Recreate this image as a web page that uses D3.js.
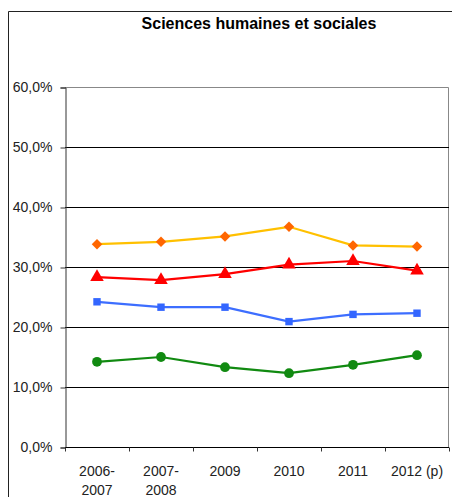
<!DOCTYPE html>
<html><head><meta charset="utf-8">
<script src="https://cdn.jsdelivr.net/npm/d3@7"></script>
<style>body{margin:0;background:#fff}svg{display:block}text{font-family:"Liberation Sans",Arial,sans-serif}</style>
</head><body>
<script>
const title = "Sciences humaines et sociales";
const categories = [["2006-","2007"],["2007-","2008"],["2009"],["2010"],["2011"],["2012 (p)"]];
const yTicks = [0,10,20,30,40,50,60];
const seriesOrange = [33.8,34.2,35.1,36.7,33.6,33.4];
const seriesRed = [28.3,27.8,28.8,30.4,31.0,29.4];
const seriesBlue = [24.2,23.3,23.3,20.9,22.1,22.3];
const seriesGreen = [14.2,15.0,13.3,12.3,13.7,15.3];

const W=452,H=497;
const svg=d3.select("body").append("svg").attr("width",W).attr("height",H);
const L=65,R=449,T=87,B=447;
const x=d3.scaleBand().domain(d3.range(categories.length)).range([L,R]);
const y=d3.scaleLinear().domain([0,60]).range([B,T]);

// outer border
svg.append("path").attr("d",`M8.5,${H} V11.5 H${W}`).attr("fill","none").attr("stroke","#222").attr("stroke-width",1);

svg.append("text").attr("x",259).attr("y",29).attr("text-anchor","middle")
  .attr("font-size",16).attr("font-weight","bold").attr("fill","#000").text(title);

// plot border top/right
svg.append("path").attr("d",`M${L},${T+0.5} H${R-0.5} V${B}`).attr("fill","none").attr("stroke","#888");

// gridlines
svg.append("g").selectAll("line").data(yTicks.filter(d=>d>0&&d<60)).join("line")
  .attr("x1",L).attr("x2",R).attr("y1",d=>Math.round(y(d))+0.5).attr("y2",d=>Math.round(y(d))+0.5)
  .attr("stroke","#000");

// y axis
const yAxis=d3.axisLeft(y).tickValues(yTicks).tickSize(5).tickPadding(8)
  .tickFormat(d=>d3.format(".1f")(d).replace(".",",")+"%");
const gy=svg.append("g").attr("transform",`translate(${L+0.5},0.5)`).call(yAxis);
gy.select(".domain").attr("stroke","#333");
gy.selectAll(".tick line").attr("stroke","#333");
gy.selectAll("text").attr("font-size",14).attr("fill","#222").attr("font-family","Liberation Sans, Arial, sans-serif");

// x axis
const gx=svg.append("g").attr("transform",`translate(0,${B+0.5})`);
gx.append("line").attr("x1",L).attr("x2",R).attr("stroke","#000");
gx.selectAll("line.tk").data(d3.range(categories.length+1)).join("line").attr("class","tk")
  .attr("x1",i=>Math.round(L+i*x.step())+0.5).attr("x2",i=>Math.round(L+i*x.step())+0.5)
  .attr("y1",0).attr("y2",4).attr("stroke","#333");
const xl=gx.selectAll("text").data(categories).join("text")
  .attr("text-anchor","middle").attr("font-size",14).attr("fill","#222")
  .attr("transform",(d,i)=>`translate(${x(i)+x.bandwidth()/2},0)`);
xl.selectAll("tspan").data(d=>d).join("tspan").attr("x",0).attr("y",(d,j)=>28+j*19).text(d=>d);

const cx=i=>x(i)+x.bandwidth()/2;
const line=d3.line().x((d,i)=>cx(i)).y(d=>y(d));
const series=[
  {v:seriesGreen,lc:"#118a11",mc:"#118a11",sym:d3.symbolCircle,size:75,rot:0},
  {v:seriesBlue,lc:"#3d6eff",mc:"#3366ff",sym:d3.symbolSquare,size:55,rot:0},
  {v:seriesRed,lc:"#ff0000",mc:"#ff0000",sym:d3.symbolTriangle,size:80,rot:0},
  {v:seriesOrange,lc:"#ffc000",mc:"#ff6600",sym:d3.symbolSquare,size:55,rot:45},
];
series.forEach(s=>{
  svg.append("path").datum(s.v).attr("d",line).attr("fill","none").attr("stroke",s.lc).attr("stroke-width",2.2);
  svg.append("g").selectAll("path").data(s.v).join("path")
    .attr("transform",(d,i)=>`translate(${cx(i)},${y(d)}) rotate(${s.rot})`)
    .attr("d",d3.symbol().type(s.sym).size(s.size)).attr("fill",s.mc);
});
</script>
</body></html>
